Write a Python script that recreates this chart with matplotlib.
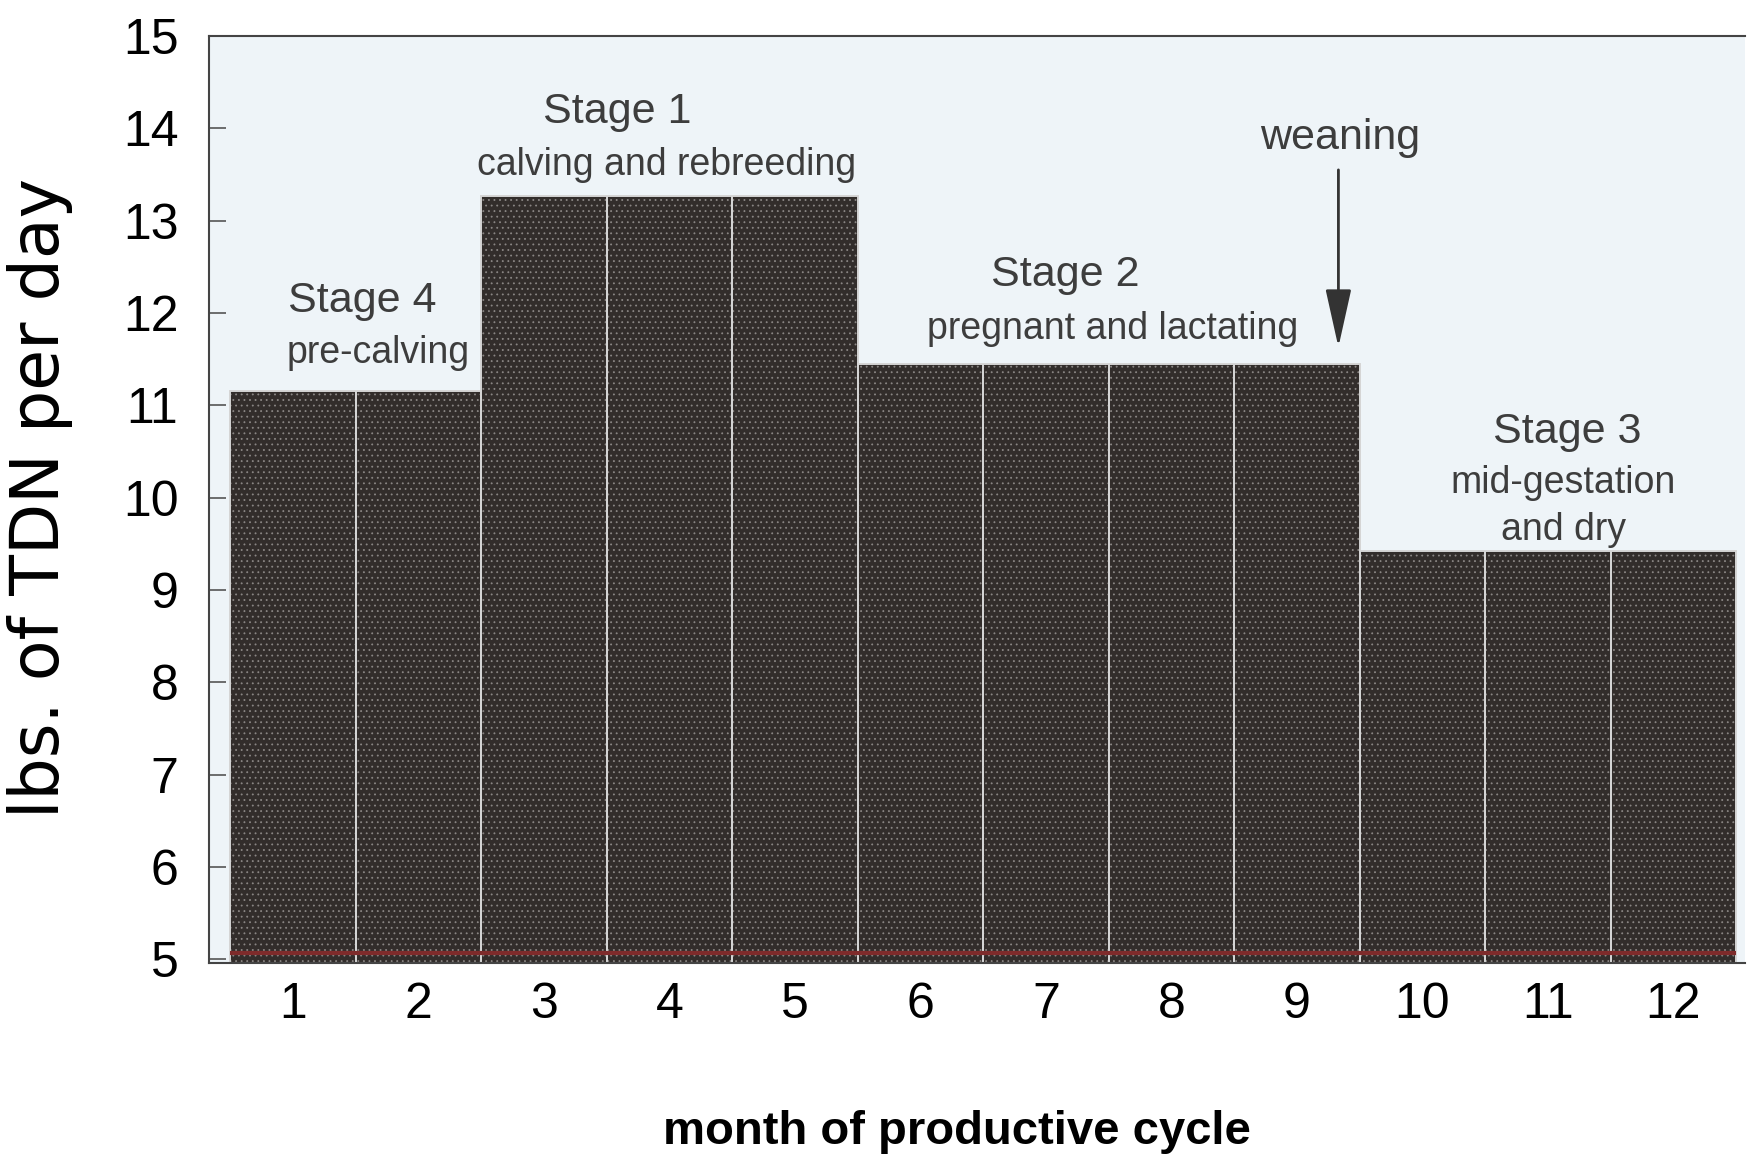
import matplotlib
matplotlib.use("Agg")
import matplotlib.pyplot as plt

# ---- data ----
months = [1, 2, 3, 4, 5, 6, 7, 8, 9, 10, 11, 12]
tdn = [11.15, 11.15, 13.27, 13.27, 13.27, 11.45, 11.45, 11.45, 11.45, 9.42, 9.42, 9.42]
y_ticks = [5, 6, 7, 8, 9, 10, 11, 12, 13, 14, 15]
x_tick_labels = ["1", "2", "3", "4", "5", "6", "7", "8", "9", "10", "11", "12"]

stage_titles = ["Stage 4", "Stage 1", "Stage 2", "Stage 3"]
stage_subtitles = ["pre-calving", "calving and rebreeding", "pregnant and lactating", "mid-gestation\nand dry"]
stage_title_xy = [(1.55, 12.13), (3.58, 14.18), (7.15, 12.41), (11.15, 10.71)]
stage_sub_xy = [(1.68, 11.57), (3.98, 13.60), (7.53, 11.83), (11.12, 9.90)]
weaning_month = 9.33
weaning_text_y = 13.89
weaning_arrow = (13.55, 11.63)

plt.rcParams['font.family'] = ['Liberation Sans', 'DejaVu Sans']
plt.rcParams['hatch.linewidth'] = 0.6

W, H = 1748, 1157
fig = plt.figure(figsize=(W / 100, H / 100), dpi=100)
fig.patch.set_facecolor('white')
ax = fig.add_axes([209 / W, 1 - 963 / H, (1745 - 209) / W, (963 - 36) / H])
ax.set_facecolor('#eef4f8')

base = 4.96
ax.bar(months, [v - base for v in tdn], bottom=base, width=1.0,
       color='#322d2b', edgecolor='#8a8684', hatch='...', linewidth=0, zorder=2)
ax.bar(months, [v - base for v in tdn], bottom=base, width=1.0,
       color='none', edgecolor='#d5d5d5', linewidth=1.4, zorder=2.5)
ax.hlines(5.07, months[0] - 0.5, months[-1] + 0.5, color='#7e2b2b', lw=3, zorder=3)

ax.set_xlim(0.33, 12.57)
ax.set_ylim(base, 15)
ax.set_yticks(y_ticks)
ax.set_yticklabels([str(t) for t in y_ticks])
ax.set_xticks(months)
ax.set_xticklabels(x_tick_labels)
ax.tick_params(axis='y', direction='in', length=12, width=1.2, color='#555555',
               labelsize=36, pad=22)
ax.tick_params(axis='x', length=0, labelsize=36, pad=14)
for s in ['top', 'left', 'bottom']:
    ax.spines[s].set_color('#444444')
    ax.spines[s].set_linewidth(1.5)
ax.spines['right'].set_visible(False)

tc = '#3d3d3d'
for t, (x, y) in zip(stage_titles, stage_title_xy):
    ax.text(x, y, t, ha='center', va='center', fontsize=31, color=tc, zorder=4)
for t, (x, y) in zip(stage_subtitles, stage_sub_xy):
    ax.text(x, y, t, ha='center', va='center', fontsize=27, color=tc,
            linespacing=1.4, zorder=4)
ax.text(weaning_month + 0.01, weaning_text_y, "weaning", ha='center', va='center',
        fontsize=31, color=tc, zorder=4)
ax.annotate("", xy=(weaning_month, weaning_arrow[1]), xytext=(weaning_month, weaning_arrow[0]),
            arrowprops=dict(arrowstyle='-|>,head_length=1.8,head_width=0.4',
                            mutation_scale=20, color='#333333', lw=2, shrinkA=0, shrinkB=0),
            zorder=4)

fig.text(40 / W, 1 - 498 / H, "lbs. of TDN per day", rotation=90, ha='center', va='center',
         fontsize=48, family=['DejaVu Sans'], color='black')
fig.text(957 / W, 1 - 1132 / H, "month of productive cycle", ha='center', va='center',
         fontsize=34, fontweight='bold', color='black')

fig.savefig('out.png', dpi=100, facecolor='white')
